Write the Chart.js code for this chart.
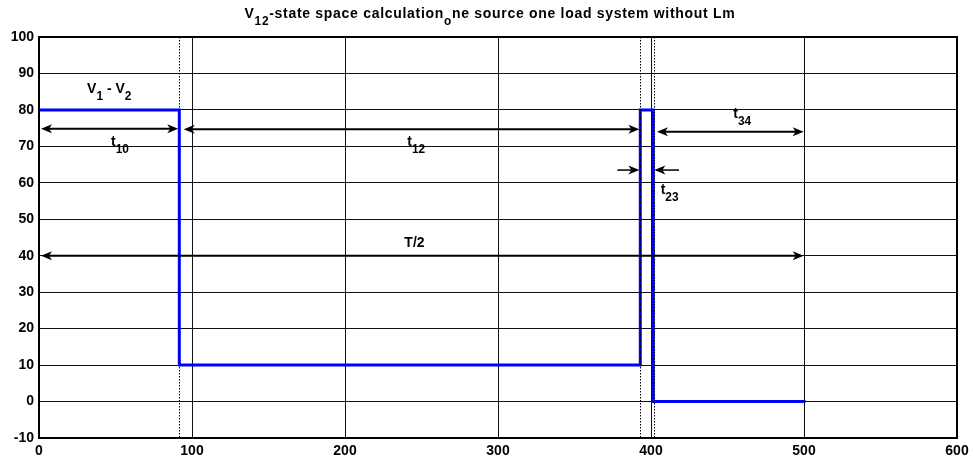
<!DOCTYPE html>
<html>
<head>
<meta charset="utf-8">
<script src="https://cdn.jsdelivr.net/npm/chart.js@4/dist/chart.umd.min.js"></script>
<style>
  html, body { margin: 0; padding: 0; background: #fff; }
  canvas { display: block; }
</style>
</head>
<body>
<canvas id="c" width="974" height="464"></canvas>
<script>
// Title uses TeX-style subscripts: "_x" or "_{xy}"
const chartTitle = 'V_{12}-state space calculation_one source one load system without Lm';

// Axis ticks
const xTicks = [0, 100, 200, 300, 400, 500, 600];
const yTicks = [-10, 0, 10, 20, 30, 40, 50, 60, 70, 80, 90, 100];

// V12 waveform (time, voltage)
const stepX = [0, 91.7, 91.7, 393, 393, 401.5, 401.5, 501];
const stepY = [80, 80, 10, 10, 80, 80, 0, 0];

// Dotted switching-instant markers
const markerX = [91.7, 393, 402.2, 500];

// Double-headed interval arrows: t10, t12, t34, T/2
const spanStart = [0, 93.3, 402.6, 0];
const spanEnd = [91, 392.4, 499.8, 499.8];
const spanLevel = [74.8, 74.7, 74.0, 40];

// Inward arrows marking t23
const pinchTail = [378, 418.3];
const pinchHead = [392.4, 402.2];
const pinchLevel = 63.5;

// Text labels (left edge, baseline)
const labelText = ['V_1 - V_2', 't_{10}', 't_{12}', 't_{34}', 't_{23}', 'T/2'];
const labelX = [31.4, 47.1, 240.7, 453.8, 406.3, 238.8];
const labelY = [84.7, 70.1, 70.1, 77.7, 56.8, 42.3];

const FONT = '"Liberation Sans", Arial, Helvetica, sans-serif';

function parseTex(s) {
  const out = [];
  let buf = '';
  let i = 0;
  while (i < s.length) {
    if (s[i] === '_') {
      if (buf) { out.push({ t: buf, sub: false }); buf = ''; }
      if (s[i + 1] === '{') {
        const j = s.indexOf('}', i);
        out.push({ t: s.slice(i + 2, j), sub: true });
        i = j + 1;
      } else {
        out.push({ t: s[i + 1], sub: true });
        i += 2;
      }
    } else {
      buf += s[i];
      i++;
    }
  }
  if (buf) out.push({ t: buf, sub: false });
  return out;
}

function drawTex(ctx, str, x, y, size, align, spacing) {
  const parts = parseTex(str);
  const subSize = size * 0.85;
  const mainFont = 'bold ' + size + 'px ' + FONT;
  const subFont = 'bold ' + subSize + 'px ' + FONT;
  ctx.letterSpacing = (spacing || 0) + 'px';
  let total = 0;
  parts.forEach(p => {
    ctx.font = p.sub ? subFont : mainFont;
    p.w = ctx.measureText(p.t).width;
    total += p.w;
  });
  let cx = align === 'center' ? x - total / 2 : x;
  ctx.textAlign = 'left';
  ctx.textBaseline = 'alphabetic';
  ctx.fillStyle = '#000';
  parts.forEach(p => {
    ctx.font = p.sub ? subFont : mainFont;
    ctx.fillText(p.t, cx, p.sub ? y + size * 0.5 : y);
    cx += p.w;
  });
  ctx.letterSpacing = '0px';
}

function arrowHead(ctx, x, y, dir) {
  const L = 11, W = 4.5, N = 3;
  ctx.beginPath();
  ctx.moveTo(x, y);
  ctx.lineTo(x - dir * L, y - W);
  ctx.lineTo(x - dir * (L - N), y);
  ctx.lineTo(x - dir * L, y + W);
  ctx.closePath();
  ctx.fill();
}

const annotationPlugin = {
  id: 'annotations',
  afterDatasetsDraw(chart) {
    const ctx = chart.ctx;
    const xs = chart.scales.x, ys = chart.scales.y;
    const area = chart.chartArea;
    ctx.save();

    // dotted markers
    ctx.strokeStyle = '#000';
    ctx.lineWidth = 1;
    ctx.setLineDash([1.5, 1.5]);
    markerX.forEach(v => {
      const px = Math.round(xs.getPixelForValue(v)) + 0.5;
      ctx.beginPath();
      ctx.moveTo(px, area.top);
      ctx.lineTo(px, area.bottom);
      ctx.stroke();
    });
    ctx.setLineDash([]);

    // interval arrows
    ctx.fillStyle = '#000';
    ctx.lineWidth = 2;
    spanStart.forEach((s, i) => {
      const x1 = xs.getPixelForValue(s) + 2;
      const x2 = xs.getPixelForValue(spanEnd[i]);
      const py = ys.getPixelForValue(spanLevel[i]);
      ctx.beginPath();
      ctx.moveTo(x1 + 6, py);
      ctx.lineTo(x2 - 6, py);
      ctx.stroke();
      arrowHead(ctx, x1, py, -1);
      arrowHead(ctx, x2, py, 1);
    });

    // t23 arrows
    ctx.lineWidth = 1.5;
    pinchTail.forEach((t, i) => {
      const xt = xs.getPixelForValue(t);
      const xh = xs.getPixelForValue(pinchHead[i]);
      const py = ys.getPixelForValue(pinchLevel);
      const dir = xh > xt ? 1 : -1;
      ctx.beginPath();
      ctx.moveTo(xt, py);
      ctx.lineTo(xh - dir * 6, py);
      ctx.stroke();
      arrowHead(ctx, xh, py, dir);
    });

    // labels
    labelText.forEach((t, i) => {
      drawTex(ctx, t, xs.getPixelForValue(labelX[i]), ys.getPixelForValue(labelY[i]), 14, 'left', 0);
    });

    // axes box
    ctx.lineWidth = 2;
    ctx.strokeStyle = '#000';
    ctx.strokeRect(area.left, area.top, area.right - area.left, area.bottom - area.top);

    // title
    drawTex(ctx, chartTitle, 490, 18, 14, 'center', 0.7);
    ctx.restore();
  }
};

new Chart(document.getElementById('c'), {
  type: 'line',
  data: {
    datasets: [{
      data: stepX.map((x, i) => ({ x: x, y: stepY[i] })),
      borderColor: '#0000ff',
      borderWidth: 3,
      pointRadius: 0,
      tension: 0,
      fill: false,
      borderCapStyle: 'butt',
      borderJoinStyle: 'miter'
    }]
  },
  options: {
    responsive: false,
    animation: false,
    devicePixelRatio: 1,
    layout: { padding: { top: 37, right: 17, left: 0, bottom: 0 } },
    plugins: {
      legend: { display: false },
      tooltip: { enabled: false },
      title: { display: false }
    },
    scales: {
      x: {
        type: 'linear',
        min: 0,
        max: 600,
        afterBuildTicks: s => { s.ticks = xTicks.map(v => ({ value: v })); },
        afterFit: s => { s.height = 26; },
        grid: { color: '#111', lineWidth: 1, drawTicks: false },
        border: { display: false },
        ticks: {
          padding: 5,
          color: '#000',
          font: { family: FONT, weight: 'bold', size: 14 },
          maxRotation: 0,
          autoSkip: false
        }
      },
      y: {
        type: 'linear',
        min: -10,
        max: 100,
        afterBuildTicks: s => { s.ticks = yTicks.map(v => ({ value: v })); },
        afterFit: s => { s.width = 39; },
        grid: { color: '#111', lineWidth: 1, drawTicks: false },
        border: { display: false },
        ticks: {
          padding: 5,
          color: '#000',
          font: { family: FONT, weight: 'bold', size: 14 },
          autoSkip: false
        }
      }
    }
  },
  plugins: [annotationPlugin]
});
</script>
</body>
</html>
